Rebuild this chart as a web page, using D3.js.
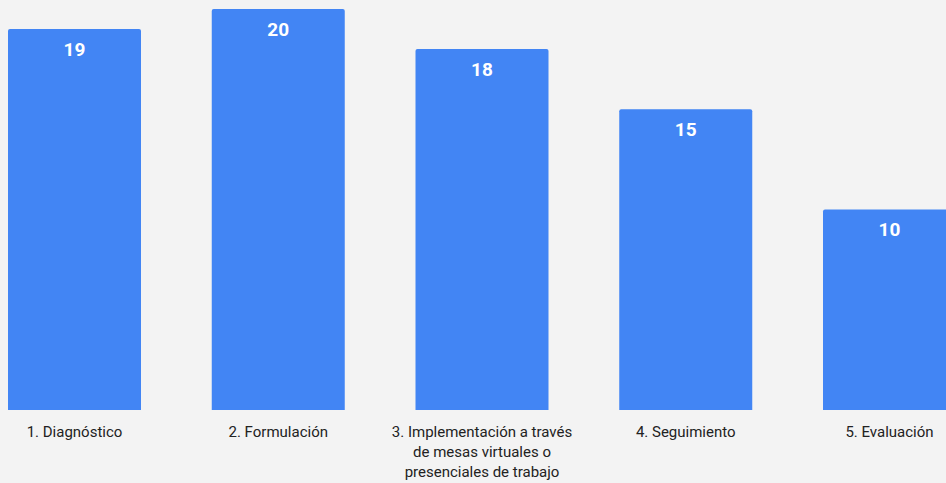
<!DOCTYPE html>
<html><head><meta charset="utf-8">
<script src="https://cdn.jsdelivr.net/npm/d3@7"></script>
<style>html,body{margin:0;padding:0;background:#f3f3f3;overflow:hidden}svg{display:block}</style>
</head><body>
<svg id="c" width="946" height="483"></svg>
<script>
const categories = ["1. Diagnóstico","2. Formulación","3. Implementación a través de mesas virtuales o presenciales de trabajo","4. Seguimiento","5. Evaluación"];
const labelLines = [["1. Diagnóstico"],["2. Formulación"],["3. Implementación a través","de mesas virtuales o","presenciales de trabajo"],["4. Seguimiento"],["5. Evaluación"]];
const values = [19,20,18,15,10];

const svg = d3.select("#c");
svg.append("rect").attr("width",946).attr("height",483).attr("fill","#f3f3f3");
const x = d3.scaleBand().domain(categories).range([8, 956]).paddingInner(70.75/203.75).paddingOuter(0);
const y = d3.scaleLinear().domain([0,20]).range([410, 9]);
const r = 2;
function barPath(x0, y0, w, y1){
  return `M${x0},${y1}V${y0+r}Q${x0},${y0} ${x0+r},${y0}H${x0+w-r}Q${x0+w},${y0} ${x0+w},${y0+r}V${y1}Z`;
}
svg.selectAll("path.bar").data(values).join("path").attr("class","bar")
  .attr("d",(d,i)=>barPath(x(categories[i]), y(d), x.bandwidth(), y(0)))
  .attr("fill","#4285f4");
svg.selectAll("text.val").data(values).join("text").attr("class","val")
  .attr("x",(d,i)=>x(categories[i])+x.bandwidth()/2)
  .attr("y",d=>y(d)+26.5)
  .attr("text-anchor","middle")
  .attr("font-family","Roboto, sans-serif").attr("font-weight","bold").attr("font-size","19px")
  .attr("fill","#ffffff").text(d=>d);
const lg = svg.selectAll("text.lab").data(categories).join("text").attr("class","lab")
  .attr("x",d=>x(d)+x.bandwidth()/2)
  .attr("y",436.5)
  .attr("text-anchor","middle")
  .attr("font-family","Roboto, sans-serif").attr("font-size","15px").attr("fill","#222");
lg.each(function(d,i){
  d3.select(this).selectAll("tspan").data(labelLines[i]).join("tspan")
    .attr("x",x(d)+x.bandwidth()/2).attr("dy",(t,j)=>j===0?0:20).text(t=>t);
});
</script>
</body></html>
